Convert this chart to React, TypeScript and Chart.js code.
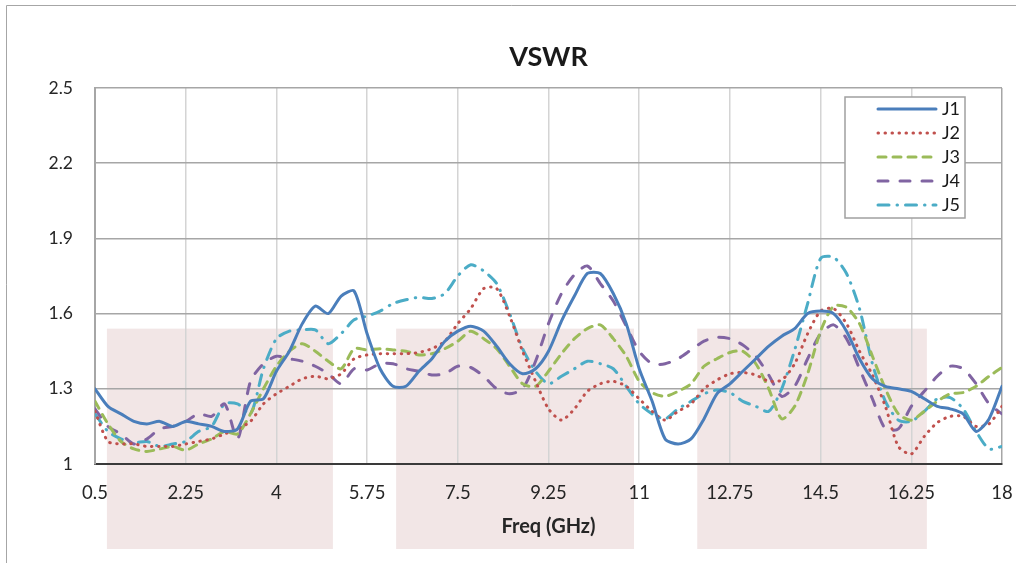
import React, { useEffect, useRef } from "react";
import { Chart, registerables } from "chart.js";

Chart.register(...registerables);

const FONT = "Lato, 'Open Sans', sans-serif";

const TITLE = "VSWR";
const X_TITLE = "Freq (GHz)";

const FREQ = [
  0.5, 0.75, 1, 1.25, 1.5, 1.75, 2, 2.25, 2.5, 2.75,
  3, 3.25, 3.5, 3.75, 4, 4.25, 4.5, 4.75, 5, 5.25,
  5.5, 5.75, 6, 6.25, 6.5, 6.75, 7, 7.25, 7.5, 7.75,
  8, 8.25, 8.5, 8.75, 9, 9.25, 9.5, 9.75, 10, 10.25,
  10.5, 10.75, 11, 11.25, 11.5, 11.75, 12, 12.25, 12.5, 12.75,
  13, 13.25, 13.5, 13.75, 14, 14.25, 14.5, 14.75, 15, 15.25,
  15.5, 15.75, 16, 16.25, 16.5, 16.75, 17, 17.25, 17.5, 17.75,
  18,
];

const J1 = [
  1.30, 1.23, 1.20, 1.17, 1.16, 1.17, 1.15, 1.17, 1.16, 1.15,
  1.13, 1.14, 1.25, 1.26, 1.37, 1.45, 1.56, 1.63, 1.60, 1.67,
  1.69, 1.52, 1.38, 1.31, 1.31, 1.37, 1.42, 1.49, 1.53, 1.55,
  1.53, 1.47, 1.40, 1.36, 1.38, 1.45, 1.57, 1.67, 1.76, 1.76,
  1.68, 1.56, 1.38, 1.25, 1.10, 1.08, 1.10, 1.18, 1.28, 1.32,
  1.37, 1.42, 1.47, 1.51, 1.54, 1.60, 1.61, 1.60, 1.53, 1.42,
  1.34, 1.31, 1.30, 1.29, 1.26, 1.23, 1.22, 1.20, 1.13, 1.18,
  1.31,
];

const J2 = [
  1.21, 1.09, 1.08, 1.08, 1.07, 1.07, 1.07, 1.08, 1.09, 1.10,
  1.12, 1.14, 1.17, 1.24, 1.28, 1.31, 1.34, 1.35, 1.34, 1.36,
  1.42, 1.435, 1.44, 1.44, 1.44, 1.445, 1.46, 1.49, 1.56, 1.62,
  1.70, 1.70, 1.59, 1.45, 1.33, 1.22, 1.175, 1.22, 1.29, 1.32,
  1.33, 1.31, 1.26, 1.21, 1.175, 1.21, 1.24, 1.30, 1.335, 1.36,
  1.365, 1.355, 1.33, 1.335, 1.40, 1.52, 1.61, 1.62, 1.56, 1.45,
  1.355, 1.23, 1.07, 1.04, 1.11, 1.165, 1.19, 1.19, 1.15, 1.16,
  1.23,
];

const J3 = [
  1.25, 1.16, 1.09, 1.06, 1.05, 1.06, 1.07, 1.055, 1.08, 1.10,
  1.13, 1.12, 1.20, 1.30, 1.39, 1.45, 1.48, 1.45, 1.41, 1.38,
  1.46, 1.455, 1.46, 1.455, 1.45, 1.435, 1.44, 1.46, 1.49, 1.53,
  1.50, 1.46, 1.39, 1.32, 1.31, 1.37, 1.44, 1.50, 1.54, 1.555,
  1.50, 1.43, 1.33, 1.285, 1.27, 1.29, 1.32, 1.39, 1.42, 1.445,
  1.45, 1.40, 1.30, 1.18, 1.23, 1.36, 1.53, 1.63, 1.625, 1.56,
  1.43, 1.30, 1.20, 1.175, 1.21, 1.25, 1.28, 1.285, 1.31, 1.35,
  1.385,
];

const J4 = [
  1.22, 1.15, 1.12, 1.08, 1.10, 1.14, 1.15, 1.17, 1.20, 1.19,
  1.24, 1.10, 1.33, 1.40, 1.43, 1.42, 1.41, 1.39, 1.36, 1.32,
  1.38, 1.375, 1.40, 1.40, 1.38, 1.37, 1.355, 1.36, 1.39, 1.385,
  1.35, 1.30, 1.28, 1.30, 1.41, 1.56, 1.68, 1.755, 1.79, 1.72,
  1.65, 1.55, 1.45, 1.40, 1.40, 1.42, 1.455, 1.49, 1.505, 1.50,
  1.475, 1.43, 1.355, 1.27, 1.31, 1.42, 1.52, 1.555, 1.50, 1.38,
  1.26, 1.14, 1.14, 1.23, 1.29, 1.35, 1.39, 1.38, 1.32, 1.24,
  1.20,
];

const J5 = [
  1.20, 1.13, 1.10, 1.085, 1.09, 1.07, 1.08, 1.09, 1.13, 1.15,
  1.24, 1.24, 1.20, 1.38, 1.50, 1.53, 1.535, 1.535, 1.48, 1.52,
  1.575, 1.59, 1.61, 1.64, 1.655, 1.665, 1.66, 1.68, 1.75, 1.795,
  1.77, 1.72, 1.60, 1.46, 1.37, 1.32, 1.35, 1.38, 1.41, 1.40,
  1.38, 1.31, 1.24, 1.20, 1.18, 1.22, 1.25, 1.28, 1.295, 1.285,
  1.25, 1.23, 1.21, 1.30, 1.455, 1.64, 1.82, 1.825, 1.76, 1.62,
  1.40, 1.25, 1.175, 1.17, 1.21, 1.26, 1.265, 1.22, 1.13, 1.06,
  1.07,
];

const X_TICKS = [0.5, 2.25, 4, 5.75, 7.5, 9.25, 11, 12.75, 14.5, 16.25, 18];
const Y_TICKS = [1, 1.3, 1.6, 1.9, 2.2, 2.5];

const BAND_START = [0.73, 6.31, 12.12];
const BAND_END = [5.09, 10.9, 16.55];
const BAND_TOP = 1.54;

const bandPlugin = {
  id: "bands",
  beforeDraw(chart: any) {
    const { ctx, chartArea } = chart;
    const x = chart.scales.x;
    const y = chart.scales.y;
    ctx.save();
    ctx.strokeStyle = "#A6A6A6";
    ctx.lineWidth = 1;
    ctx.beginPath();
    ctx.moveTo(6.5, chart.height);
    ctx.lineTo(6.5, 5.5);
    ctx.lineTo(chart.width, 5.5);
    ctx.stroke();
    ctx.fillStyle = "rgb(242,230,230)";
    BAND_START.forEach((s, i) => {
      const x0 = x.getPixelForValue(s);
      const x1 = x.getPixelForValue(BAND_END[i]);
      const y0 = y.getPixelForValue(BAND_TOP);
      ctx.fillRect(x0, y0, x1 - x0, chartArea.bottom + 85 - y0);
    });
    ctx.fillStyle = "#1a1a1a";
    ctx.font = `bold 27px ${FONT}`;
    ctx.textAlign = "center";
    ctx.textBaseline = "middle";
    ctx.fillText(TITLE, (chartArea.left + chartArea.right) / 2, chartArea.top - 31);
    ctx.restore();
  },
};

const legendPlugin = {
  id: "boxLegend",
  afterDatasetsDraw(chart: any) {
    const { ctx, chartArea } = chart;
    const w = 120;
    const h = 121;
    const left = chartArea.right - 37 - w;
    const top = chartArea.top + 9;
    ctx.save();
    ctx.fillStyle = "#ffffff";
    ctx.fillRect(left, top, w, h);
    ctx.strokeStyle = "#A0A0A0";
    ctx.lineWidth = 1.5;
    ctx.strokeRect(left, top, w, h);
    chart.data.datasets.forEach((ds: any, i: number) => {
      const yy = top + 12 + i * 24;
      ctx.setLineDash(ds.borderDash || []);
      ctx.lineCap = ds.borderCapStyle || "butt";
      ctx.strokeStyle = ds.borderColor;
      ctx.lineWidth = ds.borderWidth;
      ctx.beginPath();
      ctx.moveTo(left + 33, yy);
      ctx.lineTo(left + 91, yy);
      ctx.stroke();
      ctx.setLineDash([]);
      ctx.fillStyle = "#1a1a1a";
      ctx.font = `18px ${FONT}`;
      ctx.textBaseline = "middle";
      ctx.textAlign = "left";
      ctx.fillText(ds.label, left + 97, yy);
    });
    ctx.restore();
  },
};

function series(label: string, values: number[], color: string, dash: number[], cap: string) {
  return {
    label,
    data: FREQ.map((f, i) => ({ x: f, y: values[i] })),
    borderColor: color,
    backgroundColor: color,
    borderWidth: 3,
    borderDash: dash,
    borderCapStyle: cap,
    pointRadius: 0,
    tension: 0.25,
    fill: false,
  };
}

export default function App() {
  const ref = useRef<HTMLCanvasElement>(null);
  useEffect(() => {
    const chart = new Chart(ref.current as HTMLCanvasElement, {
      type: "line",
      data: {
        datasets: [
          series("J1", J1, "#4A7EBB", [], "round"),
          series("J2", J2, "#C0504D", [0.5, 6.5], "round"),
          series("J3", J3, "#9BBB59", [8, 7], "round"),
          series("J4", J4, "#8064A2", [10, 12], "round"),
          series("J5", J5, "#4BACC6", [11, 8, 0.5, 8], "round"),
        ] as any,
      },
      options: {
        animation: false,
        responsive: false,
        layout: { padding: { left: 0, right: 14, top: 88, bottom: 0 } },
        plugins: {
          legend: { display: false },
          tooltip: { enabled: false },
          title: { display: false },
        },
        scales: {
          x: {
            type: "linear",
            min: 0.5,
            max: 18,
            afterBuildTicks: (s: any) => {
              s.ticks = X_TICKS.map((v) => ({ value: v }));
            },
            afterFit: (s: any) => {
              s.height = 99;
              s.paddingLeft = 0;
              s.paddingRight = 0;
            },
            grid: {
              color: (c: any) => (c.tick && c.tick.value === 18 ? "#A6A6A6" : "#D4D4D4"),
              lineWidth: 1.5,
              drawTicks: false,
            },
            border: { display: true, color: "#3A3A3A", width: 2 },
            ticks: {
              padding: 18,
              color: "#262626",
              font: { family: FONT, size: 18.5 },
              maxRotation: 0,
              autoSkip: false,
              callback: (v: any) => String(v),
            },
            title: {
              display: true,
              text: X_TITLE,
              color: "#262626",
              font: { family: FONT, size: 20, weight: "bold" },
              padding: { top: 0, bottom: 24 },
            },
          },
          y: {
            min: 1,
            max: 2.5,
            afterBuildTicks: (s: any) => {
              s.ticks = Y_TICKS.map((v) => ({ value: v }));
            },
            afterFit: (s: any) => {
              s.width = 95;
              s.paddingTop = 0;
              s.paddingBottom = 0;
            },
            grid: {
              color: (c: any) => (c.tick && c.tick.value === 1 ? "rgba(0,0,0,0)" : "#A6A6A6"),
              lineWidth: 1.5,
              drawTicks: false,
            },
            border: { display: true, color: "#A6A6A6", width: 2 },
            ticks: {
              padding: 22,
              color: "#262626",
              font: { family: FONT, size: 17.5 },
              callback: (v: any) => String(v),
            },
          },
        },
      } as any,
      plugins: [bandPlugin, legendPlugin],
    });
    return () => chart.destroy();
  }, []);
  return (
    <div style={{ position: "absolute", left: 0, top: 0, width: 1016, height: 563, background: "#fff" }}>
      <canvas ref={ref} width={1016} height={563} style={{ display: "block" }} />
    </div>
  );
}
